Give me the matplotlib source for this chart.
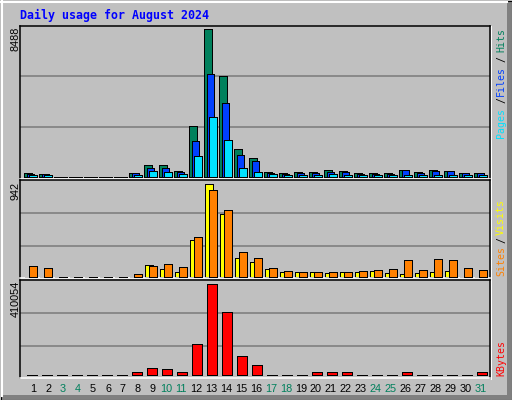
import matplotlib
matplotlib.use("Agg")
import matplotlib.pyplot as plt
from matplotlib.lines import Line2D
from matplotlib.patches import Rectangle

# ---------------- data ----------------
days = list(range(1, 32))
day_labels = [str(d) for d in days]
weekend_days = [3, 4, 10, 11, 17, 18, 24, 25, 31]

hits = [190, 154, 0, 0, 0, 0, 0, 190, 673, 673, 326, 2920, 8488, 5800, 1594, 1075,
        270, 190, 250, 250, 365, 345, 210, 210, 190, 384, 250, 384, 345, 210, 210]
files = [173, 134, 0, 0, 0, 0, 0, 190, 480, 480, 250, 2055, 5914, 4245, 1248, 902,
         210, 134, 192, 210, 250, 250, 154, 154, 134, 365, 210, 345, 326, 210, 192]
pages = [96, 77, 0, 0, 0, 0, 0, 96, 326, 270, 155, 1190, 3437, 2112, 500, 270,
         173, 77, 96, 115, 134, 115, 96, 96, 77, 115, 115, 115, 115, 96, 96]
visits = [0, 0, 0, 0, 0, 0, 0, 0, 119, 75, 48, 374, 942, 639, 187, 150,
          78, 48, 44, 44, 37, 44, 48, 58, 37, 27, 37, 48, 54, 0, 0]
sites = [112, 89, 0, 0, 0, 0, 0, 27, 109, 126, 99, 405, 884, 680, 252, 190,
         89, 58, 44, 44, 44, 44, 58, 65, 78, 167, 65, 177, 167, 85, 65]
kbytes = [0, 0, 0, 0, 0, 0, 0, 13000, 33045, 28540, 15020, 141190, 410054, 285390, 87120, 46560,
          0, 0, 0, 13000, 13000, 13000, 0, 0, 0, 13000, 0, 0, 0, 0, 13000]

max_hits_label = "8488"
max_visits_label = "942"
max_kbytes_label = "410054"
title = "Daily usage for August 2024"

# ---------------- colours ----------------
BG = "#C0C0C0"
GRID = "#808080"
C_HITS = "#00805C"
C_FILES = "#0040FF"
C_PAGES = "#00E0FF"
C_VISITS = "#FFFF00"
C_SITES = "#FF8000"
C_KB = "#FF0000"
C_WEEKEND = "#00805C"

W, H = 512, 400
fig = plt.figure(figsize=(W / 100, H / 100), dpi=100, facecolor=BG)


def rect(x0, y0, x1, y1):
    return [x0 / W, 1 - y1 / H, (x1 - x0) / W, (y1 - y0) / H]


def fx(x):
    return x / W


def fy(y):
    return 1 - y / H


LW = 0.75   # ~1 px
BLW = 0.72  # bar outline, 1 px
BAR_KW = dict(edgecolor="black", lw=BLW, antialiased=False)

# ---------------- outer frame ----------------
fig.patches.append(Rectangle((fx(507), fy(399.5)), (512 - 507) / W, (399.5 - 1) / H,
                             transform=fig.transFigure, facecolor="#808080", edgecolor="none"))
fig.patches.append(Rectangle((fx(1), fy(400)), (511 - 1) / W, 5 / H,
                             transform=fig.transFigure, facecolor="#808080", edgecolor="none"))
fig.add_artist(Line2D([fx(1), fx(507)], [fy(1.5), fy(1.5)], color="white", lw=1.5, transform=fig.transFigure))
fig.add_artist(Line2D([fx(1.5), fx(1.5)], [fy(1), fy(396)], color="white", lw=1.5, transform=fig.transFigure))
fig.patches.append(Rectangle((0.5 / W, 0.5 / H), (W - 1) / W, (H - 1) / H,
                             transform=fig.transFigure, facecolor="none", edgecolor="black", lw=LW))

XLIM = (0.3, 31.63)


def make_panel(y0, yb, ymaxpx, y1, maxval, grid_px):
    """y0: top border px, yb: bar baseline px, ymaxpx: px of max value, y1: bottom border px."""
    ax = fig.add_axes(rect(20, y0, 490, y1))
    ax.set_facecolor(BG)
    ax.set_xlim(*XLIM)
    s = maxval / (yb - ymaxpx)
    ax.set_ylim(-(y1 - yb) * s, (yb - y0) * s)
    for gp in grid_px:
        ax.axhline((yb - gp) * s, color=GRID, lw=1.2, zorder=0)
    ax.set_xticks([])
    ax.set_yticks([])
    for name, sp in ax.spines.items():
        sp.set_linewidth(1.1)
        sp.set_color("white" if name == "bottom" else "black")
    fig.add_artist(Line2D([fx(491.3), fx(491.3)], [fy(y0), fy(y1 + 0.5)], color="white", lw=LW,
                          transform=fig.transFigure))
    return ax


# ---------------- panel 1: hits / files / pages ----------------
ax1 = make_panel(25.5, 176.7, 29.3, 178.5, max(hits), [76, 127])
bw = 0.515
ax1.bar([d - 0.147 for d in days], hits, width=bw, color=C_HITS, zorder=2, **BAR_KW)
ax1.bar(days, files, width=bw, color=C_FILES, zorder=3, **BAR_KW)
ax1.bar([d + 0.147 for d in days], pages, width=bw, color=C_PAGES, zorder=4, **BAR_KW)

# ---------------- panel 2: visits / sites ----------------
ax2 = make_panel(180.0, 276.7, 184.3, 278.4, max(visits), [213, 246])
bw2 = 0.535
ax2.bar([d - 0.10 for d in days], visits, width=bw2, color=C_VISITS, zorder=2, **BAR_KW)
ax2.bar([d + 0.147 for d in days], sites, width=bw2, color=C_SITES, zorder=3, **BAR_KW)

# ---------------- panel 3: kbytes ----------------
ax3 = make_panel(280.0, 375.3, 284.3, 378.3, max(kbytes), [313, 346])
ax3.bar([d + 0.08 for d in days], kbytes, width=0.667, color=C_KB, zorder=2, **BAR_KW)

# ---------------- texts ----------------
fig.text(fx(20), fy(15.5), title, color="#0000FF", fontsize=8.4, fontweight="bold",
         family="DejaVu Sans Mono", ha="left", va="center")

num_font = dict(family=["Liberation Sans", "DejaVu Sans"], fontsize=7.8)
fig.text(fx(15.3), fy(26.8), max_hits_label, rotation=90, ha="center", va="top", color="black", **num_font)
fig.text(fx(15.3), fy(181.8), max_visits_label, rotation=90, ha="center", va="top", color="black", **num_font)
fig.text(fx(15.3), fy(281.2), max_kbytes_label, rotation=90, ha="center", va="top", color="black", **num_font)

# day labels
for d, lab in zip(days, day_labels):
    xpix = 30.5 + (d - 1) * 15 + (2.5 if d < 10 else 0.3)
    col = C_WEEKEND if d in weekend_days else "black"
    fig.text(fx(xpix), fy(389.3), lab, ha="center", va="center", color=col, **num_font)

# right-side legends
mono = dict(family="DejaVu Sans Mono", fontsize=7.1, rotation=90, ha="center", va="center")
xr = fx(501.2)
for txt, yc, col in [("Pages", 122.5, C_PAGES), ("/", 100.0, "black"), ("Files", 81.0, C_FILES),
                     ("/", 59.3, "black"), ("Hits", 40.0, C_HITS)]:
    fig.text(xr, fy(yc), txt, color=col, **mono)
for txt, yc, col in [("Sites", 261.2, C_SITES), ("/", 240.0, "black"), ("Visits", 216.7, C_VISITS)]:
    fig.text(xr, fy(yc), txt, color=col, **mono)
fig.text(xr, fy(358.3), "KBytes", color=C_KB, **mono)

fig.savefig("out.png", dpi=100, facecolor=BG)
